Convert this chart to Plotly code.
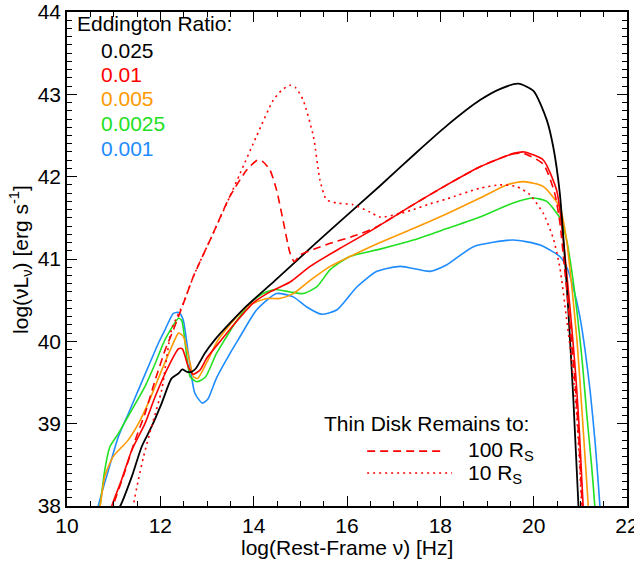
import plotly.graph_objects as go

# ---------------- data ----------------
x_0025 = [11.0, 11.14, 11.39, 11.6, 11.81, 12.03, 12.24, 12.39, 12.47, 12.57, 12.67, 12.76, 12.96, 13.17,
          13.49, 13.85, 14.46, 15.0, 15.6, 16.71, 17.5, 18.14, 18.85, 19.3, 19.67, 20.0, 20.28, 20.42,
          20.56, 20.67, 20.74, 20.85, 20.96, 20.99]
y_0025 = [37.9, 38.0, 38.36, 38.72, 38.96, 39.25, 39.55, 39.61, 39.66, 39.63, 39.63, 39.67, 39.86, 40.02,
          40.22, 40.43, 40.74, 41.02, 41.33, 41.89, 42.3, 42.62, 42.93, 43.07, 43.13, 43.04, 42.69, 42.36,
          41.8, 41.0, 40.4, 39.3, 38.0, 37.7]

x_001 = [10.92, 10.96, 11.17, 11.39, 11.67, 11.89, 12.17, 12.39, 12.47, 12.6, 12.7, 12.85, 13.0, 13.31,
         13.6, 14.0, 14.35, 14.78, 15.21, 15.85, 16.56, 17.42, 18.14, 18.85, 19.56, 19.8, 20.21, 20.49,
         20.56, 20.66, 20.78, 20.9, 20.98, 21.06, 21.09]
y_001 = [37.9, 38.0, 38.32, 38.68, 39.0, 39.33, 39.69, 39.91, 39.91, 39.69, 39.6, 39.65, 39.8, 40.02,
         40.22, 40.47, 40.6, 40.72, 40.91, 41.13, 41.36, 41.66, 41.9, 42.12, 42.28, 42.3, 42.2, 41.84,
         41.6, 41.1, 40.4, 39.6, 38.9, 38.0, 37.7]

x_0005 = [10.67, 10.71, 10.81, 10.99, 11.31, 11.53, 11.74, 12.03, 12.24, 12.39, 12.49, 12.64, 12.71, 12.8,
          13.0, 13.24, 13.85, 14.28, 14.56, 14.85, 15.21, 15.64, 16.21, 16.71, 17.42, 18.14, 18.85, 19.42,
          19.78, 20.21, 20.56, 20.7, 20.82, 20.93, 21.03, 21.1, 21.17, 21.2]
y_0005 = [37.9, 38.0, 38.36, 38.6, 38.8, 39.0, 39.25, 39.65, 39.93, 40.1, 40.06, 39.73, 39.57, 39.55,
          39.75, 40.02, 40.42, 40.52, 40.52, 40.58, 40.74, 40.91, 41.07, 41.2, 41.37, 41.55, 41.74, 41.9,
          41.94, 41.88, 41.63, 41.25, 40.65, 40.0, 39.2, 38.6, 38.0, 37.7]

x_00025 = [10.69, 10.71, 10.81, 10.92, 11.1, 11.31, 11.67, 11.89, 12.1, 12.39, 12.46, 12.64, 12.78, 12.96,
           13.2, 13.38, 13.6, 13.92, 14.2, 14.46, 14.78, 15.06, 15.35, 15.64, 16.06, 16.71, 17.42, 18.14,
           18.85, 19.56, 19.99, 20.28, 20.56, 20.7, 20.83, 20.95, 21.05, 21.14, 21.24, 21.31, 21.34]
y_00025 = [37.9, 38.0, 38.44, 38.72, 38.88, 39.09, 39.45, 39.73, 40.02, 40.28, 40.25, 39.57, 39.51, 39.56,
           39.85, 40.02, 40.22, 40.46, 40.58, 40.63, 40.6, 40.58, 40.66, 40.87, 41.03, 41.12, 41.23, 41.37,
           41.51, 41.68, 41.74, 41.7, 41.5, 41.25, 40.8, 40.25, 39.7, 39.1, 38.5, 38.0, 37.7]

x_0001 = [10.65, 10.67, 10.89, 11.1, 11.32, 11.53, 11.74, 11.96, 12.1, 12.28, 12.4, 12.49, 12.6, 12.74,
          12.9, 13.02, 13.2, 13.49, 13.67, 14.06, 14.49, 14.85, 15.13, 15.45, 15.78, 16.21, 16.64, 17.14,
          17.78, 18.14, 18.71, 19.56, 20.14, 20.56, 20.71, 20.85, 20.99, 21.1, 21.21, 21.32, 21.42, 21.45]
y_0001 = [37.9, 38.0, 38.44, 38.84, 39.13, 39.41, 39.69, 39.98, 40.14, 40.34, 40.35, 40.26, 39.85, 39.37,
          39.25, 39.3, 39.55, 39.85, 40.02, 40.38, 40.58, 40.54, 40.42, 40.33, 40.38, 40.66, 40.85, 40.91,
          40.85, 40.93, 41.15, 41.23, 41.17, 41.03, 40.9, 40.65, 40.3, 39.9, 39.4, 38.75, 38.0, 37.7]

x_100rs = [10.97, 10.99, 11.2, 11.46, 11.67, 11.89, 12.1, 12.28, 12.5, 12.71, 13.13, 13.49, 13.85, 14.08,
           14.2, 14.35, 14.49, 14.63, 14.78, 14.87, 15.0, 15.3, 15.64, 16.21, 16.6, 17.42, 18.14, 18.85,
           19.56, 19.8, 20.21, 20.45, 20.56, 20.66, 20.78, 20.9, 20.97, 21.04, 21.07]
y_100rs = [37.9, 38.0, 38.35, 38.8, 39.12, 39.53, 39.89, 40.14, 40.47, 40.79, 41.31, 41.76, 42.08, 42.2,
           42.18, 42.08, 41.84, 41.47, 41.07, 40.97, 41.05, 41.12, 41.19, 41.29, 41.38, 41.66, 41.9, 42.12,
           42.28, 42.28, 42.15, 41.8, 41.45, 40.9, 40.2, 39.4, 38.8, 38.0, 37.7]

x_10rs = [11.4, 11.42, 11.53, 11.64, 11.81, 12.03, 12.24, 12.5, 12.71, 13.13, 13.49, 13.71, 14.06, 14.42,
          14.6, 14.78, 14.9, 15.06, 15.28, 15.42, 15.56, 15.78, 16.13, 16.49, 16.71, 17.13, 17.42, 17.78,
          18.14, 18.85, 19.28, 19.64, 19.92, 20.21, 20.42, 20.56, 20.7, 20.78, 20.92, 21.03, 21.06]
y_10rs = [37.9, 38.0, 38.32, 38.6, 38.96, 39.41, 40.14, 40.47, 40.79, 41.31, 41.76, 42.04, 42.49, 42.93,
          43.05, 43.11, 43.08, 42.93, 42.49, 41.96, 41.72, 41.68, 41.66, 41.57, 41.51, 41.55, 41.6, 41.67,
          41.73, 41.86, 41.9, 41.88, 41.78, 41.55, 41.25, 40.9, 40.3, 39.93, 39.13, 38.0, 37.7]

ratio_labels = ["0.025", "0.01", "0.005", "0.0025", "0.001"]
ratio_colors = ["#000000", "#FF0000", "#FF9900", "#22E022", "#1E8CFF"]
x_ticks = [10, 12, 14, 16, 18, 20, 22]
y_ticks = [38, 39, 40, 41, 42, 43, 44]

FONT = "Liberation Sans, Arial, sans-serif"
FS = 21

fig = go.Figure()

solid = [(x_0025, y_0025), (x_001, y_001), (x_0005, y_0005), (x_00025, y_00025), (x_0001, y_0001)]
order = [4, 3, 2, 1, 0]
for i in order:
    xs, ys = solid[i]
    fig.add_trace(go.Scatter(x=xs, y=ys, mode="lines",
                             line=dict(color=ratio_colors[i], width=1.6 if i else 1.8,
                                       shape="spline", smoothing=0.6),
                             showlegend=False, hoverinfo="skip"))

fig.add_trace(go.Scatter(x=x_100rs, y=y_100rs, mode="lines",
                         line=dict(color="#FF0000", width=1.6, dash="8px,5px",
                                   shape="spline", smoothing=0.6),
                         showlegend=False, hoverinfo="skip"))
fig.add_trace(go.Scatter(x=x_10rs, y=y_10rs, mode="lines",
                         line=dict(color="#FF0000", width=1.6, dash="2px,4px",
                                   shape="spline", smoothing=0.6),
                         showlegend=False, hoverinfo="skip"))

# ---------------- axes ----------------
axis_common = dict(
    showline=True, linecolor="black", linewidth=1.5, mirror="allticks",
    ticks="inside", ticklen=10, tickwidth=1.2, tickcolor="black",
    showgrid=False, zeroline=False, automargin=False, ticklabeloverflow="allow",
    tickfont=dict(family=FONT, size=FS, color="black"),
)
fig.update_xaxes(range=[10, 22], tickvals=x_ticks, ticktext=[str(v) for v in x_ticks],
                 minor=dict(dtick=0.5, tick0=10, ticks="inside", ticklen=5, tickcolor="black", tickwidth=1),
                 **axis_common)
fig.update_yaxes(range=[38, 44], tickvals=y_ticks, ticktext=[str(v) for v in y_ticks],
                 minor=dict(dtick=0.1, tick0=38, ticks="inside", ticklen=5, tickcolor="black", tickwidth=1),
                 **axis_common)

# ---------------- annotations ----------------
ann = []
ann.append(dict(text="log(Rest-Frame \u03bd) [Hz]", x=0.5, y=-0.085, xref="paper", yref="paper",
                xanchor="center", yanchor="middle", showarrow=False,
                font=dict(family=FONT, size=FS, color="black")))
ann.append(dict(text="log(\u03bdL<sub>\u03bd</sub>) [erg s<sup>-1</sup>]", x=-0.084, y=0.5,
                xref="paper", yref="paper", textangle=-90, xanchor="center", yanchor="middle",
                showarrow=False, font=dict(family=FONT, size=FS, color="black")))
ann.append(dict(text="Eddington Ratio:", x=0.0143, y=0.976, xref="paper", yref="paper",
                xanchor="left", yanchor="middle", showarrow=False,
                font=dict(family=FONT, size=FS, color="black")))
legend_y = [0.923, 0.874, 0.824, 0.775, 0.723]
for lab, col, yy in zip(ratio_labels, ratio_colors, legend_y):
    ann.append(dict(text=lab, x=0.0577, y=yy, xref="paper", yref="paper",
                    xanchor="left", yanchor="middle", showarrow=False,
                    font=dict(family=FONT, size=FS, color=col)))
ann.append(dict(text="Thin Disk Remains to:", x=0.455, y=0.168, xref="paper", yref="paper",
                xanchor="left", yanchor="middle", showarrow=False,
                font=dict(family=FONT, size=FS, color="black")))
ann.append(dict(text="100 R<sub>S</sub>", x=0.712, y=0.112, xref="paper", yref="paper",
                xanchor="left", yanchor="middle", showarrow=False,
                font=dict(family=FONT, size=FS, color="black")))
ann.append(dict(text="10 R<sub>S</sub>", x=0.712, y=0.0648, xref="paper", yref="paper",
                xanchor="left", yanchor="middle", showarrow=False,
                font=dict(family=FONT, size=FS, color="black")))

shapes = [
    dict(type="line", xref="paper", yref="paper", x0=0.536, x1=0.675, y0=0.111, y1=0.111,
         line=dict(color="#FF0000", width=1.6, dash="8px,5px")),
    dict(type="line", xref="paper", yref="paper", x0=0.536, x1=0.6875, y0=0.0668, y1=0.0668,
         line=dict(color="#FF0000", width=1.6, dash="2px,4px")),
]

fig.update_layout(
    width=634, height=561,
    margin=dict(l=67, r=7, t=12, b=55),
    paper_bgcolor="white", plot_bgcolor="white",
    annotations=ann, shapes=shapes,
    showlegend=False,
    font=dict(family=FONT, size=FS, color="black"),
)

fig.write_html("out.html")
